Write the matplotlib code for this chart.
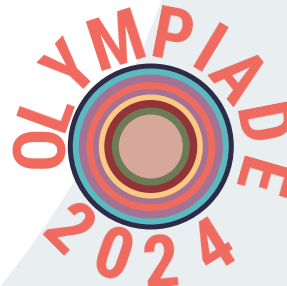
import matplotlib
matplotlib.use("Agg")
import matplotlib.pyplot as plt
import numpy as np
from matplotlib.patches import Circle

# Logo content
top_letters = ["O", "L", "Y", "M", "P", "I", "A", "D", "E"]
top_angles = [180, 160, 136, 108, 79, 59, 39, 11, -16]
bottom_letters = ["2", "0", "2", "4"]
bottom_angles = [-135, -109, -85, -58]

# Concentric rings, outer to inner
ring_radii = [83, 78, 72, 64.5, 57.5, 52, 46.5, 39, 32]
ring_colors = ["#2f2b47", "#5ab9c1", "#a57293", "#ee6b60", "#a57293",
               "#fdc882", "#923338", "#6c7b56", "#d6a79b"]

W, H = 287, 286
cx, cy = 150.8, H - 146.5
text_color = "#f0695e"

fig = plt.figure(figsize=(W / 100, H / 100), dpi=100)
fig.patch.set_facecolor("#e9eef0")
ax = fig.add_axes([0, 0, 1, 1])
ax.set_xlim(0, W)
ax.set_ylim(0, H)
ax.set_facecolor("#e9eef0")
for s in ax.spines.values():
    s.set_visible(False)
ax.set_xticks([])
ax.set_yticks([])

# white sweep from the upper left
ax.add_patch(Circle((-800, H + 354), 1025, color="white", lw=0, zorder=0))

for r, c in zip(ring_radii, ring_colors):
    ax.add_patch(Circle((cx, cy), r, color=c, lw=0, zorder=2))

font = dict(family=["Roboto Condensed", "DejaVu Sans"], weight="bold", fontsize=52,
            color=text_color, ha="center", va="center_baseline",
            rotation_mode="anchor", zorder=3)

r_top = 115
for ch, a in zip(top_letters, top_angles):
    t = np.radians(a)
    ax.text(cx + r_top * np.cos(t), cy + r_top * np.sin(t), ch,
            rotation=a - 90, **font)

r_bot = 113
for ch, a in zip(bottom_letters, bottom_angles):
    t = np.radians(a)
    ax.text(cx + r_bot * np.cos(t), cy + r_bot * np.sin(t), ch,
            rotation=a + 90, **font)

fig.savefig("out.png", dpi=100, facecolor=fig.get_facecolor())
